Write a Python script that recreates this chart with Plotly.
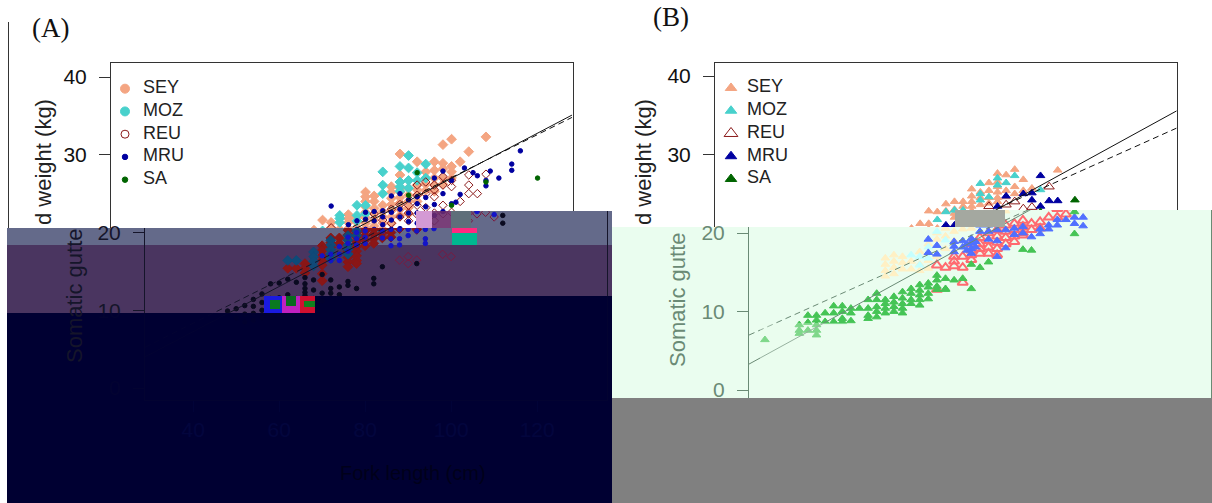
import plotly.graph_objects as go

W, H = 1212, 503
SERIES = ["SEY", "MOZ", "REU", "MRU", "SA"]
X_TICKS = [40, 60, 80, 100, 120]
KEY_ROWS = [4, 3, 2, 1, 0]

# Panel A: fork length (cm) -> somatic gutted weight (kg)
A_SEY = {62: [15.4], 64: [15.4], 66: [16, 15.4, 14.8], 70: [18.3, 17.7, 17, 16.4, 15.8, 14.7, 13.8],
         72: [19.3, 18.7, 18.1], 74: [19.3, 18.6], 76: [20.3, 19.7, 19, 18.4, 17.6, 16.8, 16.2, 15.6],
         78: [21.6, 20, 19.4, 18.8, 18.2, 17.6, 17, 16.4, 16], 80: [21.3, 20.6, 20.2, 19.6, 19, 18.3],
         82: [20.4, 19.8, 19.2, 18.6], 84: [22.3, 21.8, 21.3, 20.5, 19.9, 19.3], 86: [22, 21.3, 20.6, 20, 19.4],
         88: [25.2, 24.6, 24, 23.3, 22.6, 21.9, 21.2, 20.5], 90: [24.7, 24, 23.1, 22.4, 21.6, 20.8],
         92: [23.5, 22.7, 22, 21.2, 20.4], 94: [25.9, 25.2, 24.4, 23.6, 22.8, 22, 21.2],
         96: [30.1, 27.4, 26.5, 25.7, 25.2, 24.5, 23.8, 23, 22.2], 98: [25.7, 24.8, 24, 23.2, 22.4],
         100: [29.1, 26.1, 25.5, 24.8, 24], 102: [27.8, 27, 26.2, 25.4], 104: [29.1, 28, 27, 26.1, 25.3],
         106: [31.3, 28.9, 28.2, 27, 26.2], 108: [32, 28.5, 27.8, 27], 110: [29.1], 112: [30.4], 116: [32.3]}
A_MOZ = {62: [16.4], 64: [16.4], 68: [17.5, 16.9, 16.3, 15.7], 72: [19, 18.4, 17.8, 17.2, 16.6],
         76: [19.6, 19, 18.4, 17.8, 17.2], 78: [20.2, 19.6], 82: [22.2, 21.8, 21.3], 86: [23.5, 22.2, 21.5],
         88: [23.5, 22.4], 92: [27.8, 26.1, 25], 96: [28.5, 26.5, 25.9, 25.3], 98: [29.9, 28.3, 26.7, 25.7],
         100: [27.7, 26.7], 102: [28.8, 27]}
A_REU = {80: [20.6], 84: [19.6], 88: [16.45], 90: [22.4, 16.9, 16], 92: [21.6, 16.45], 94: [23, 21.2], 96: [23.6, 22],
         98: [23.5, 22.5, 21.5, 17.2], 100: [26.1, 24.8, 23.5, 22.3, 16.9], 102: [26.5, 25, 23.2, 22],
         104: [26.1, 25.5, 24.6, 22.5, 21.5], 106: [27.2, 26.1, 23.5, 22.4], 108: [26.7, 25.9, 22.6], 110: [24, 22],
         112: [27.4, 26.1, 25], 114: [25], 116: [27.5]}
A_MRU = {70: [17], 72: [17.2, 16.4], 74: [18.2, 17.2, 16.4], 76: [19.4, 18.6, 17.6], 78: [20, 19.2, 18.4],
         80: [23.4, 20.2, 19.4, 18.6], 84: [21, 20.2, 19.3], 86: [21.5, 20.4, 19.2, 18.3], 88: [22.6, 21.7, 20.4, 19.2, 18.4],
         90: [22.7, 21.5, 20.4, 19.6], 92: [22.8, 22, 21, 20.2], 94: [24.7, 22.6, 21.6, 20.4, 19.2, 18.6],
         96: [25, 23, 22, 20.5], 98: [24.2, 22.5, 21.4], 100: [24.6, 23.7, 22.5, 21.2], 102: [24.5, 23.3, 21.9],
         104: [27, 23.6, 22.2], 106: [27.9, 25, 22.7], 108: [26.7, 23.7], 109: [23.9], 110: [24.9, 22.3], 111: [28.3],
         113: [27.7], 114: [27.3], 116: [26.7, 26], 117: [27.9], 119: [27], 122: [28.8, 28], 124: [30.5]}
A_SA = {48: [9.9], 50: [9, 10.2], 52: [8.5, 9.5, 10.6], 54: [8.7, 9.6, 10.5, 11.4], 56: [9, 10, 11, 12.1],
        58: [9.5, 10.5, 11.5, 13.4], 60: [9.5, 10.5, 11.6, 13.5], 62: [10, 11, 12, 14], 64: [10.5, 11.5, 13.6],
        66: [14.2, 13.4, 12.8, 12.3, 11.9], 68: [13.9, 12.6, 11.5], 70: [14.6, 12.2, 11.2], 72: [13.9, 12.8, 12.2],
        74: [13, 12], 76: [13.7, 13.2], 78: [12.8], 82: [14.1, 13.4], 84: [15.6], 92: [16], 98: [24.8], 100: [27.7],
        108: [23.5], 112: [22.2, 21.2], 116: [26.5], 128: [27]}

# Panel B: fork length (cm) -> somatic gutted weight (kg)
B_SEY = {60: [14.5, 15.2, 16, 16.8], 62: [14.8, 15.6, 16.4, 17.2], 64: [15.4, 16.2, 17], 66: [15.4, 16.4],
         68: [15.2, 16, 17.6], 70: [15.5, 16.5, 18.6], 72: [17, 19.2, 20], 74: [18, 19.6, 20.6], 76: [21.2, 20.2, 19],
         78: [22.8, 21.2, 20.5], 80: [22.7, 20.6], 82: [23.7, 22.8], 84: [24, 23, 22.5, 22],
         86: [24, 23.4, 22.8, 22], 88: [25.6, 24.7, 24, 23.4, 22.8], 90: [25.2, 24.5, 23.6], 92: [26.4, 25.4, 24.5, 23.8],
         94: [27.6, 26.5, 25.9, 25.2, 24.5, 24], 96: [27.4, 25.4, 24.6], 98: [28.1, 25.9, 25], 100: [26.8, 25.4],
         102: [25.7], 108: [28]}
B_MOZ = {66: [17.2], 68: [17, 15.9], 70: [18.2, 16.8], 72: [20.2], 74: [19.1], 80: [21.7], 82: [22.7], 84: [22.9],
         86: [22.9], 90: [26.3, 25, 24.2], 92: [24.6], 94: [27, 26.1], 96: [26.4], 98: [27.3], 104: [25.5]}
B_REU = {72: [15.9, 12.8], 74: [15.6], 76: [17, 16.4, 15.8], 78: [17, 15.6, 13.7], 80: [18.6, 17.8, 17.2, 16.6],
         82: [19.4, 18.6, 18, 17.4], 84: [20, 19, 18.2, 17.4], 86: [20.4, 19.6, 18.8, 18, 17.2],
         88: [21, 20.2, 19.4, 18.6], 90: [21.2, 20.4, 19.6, 18.9], 92: [23.4, 21.6, 20.8, 20, 19.7],
         94: [21.2, 20.4], 96: [23.6, 21.4, 20.6], 98: [24, 22], 100: [23.1, 22], 102: [23.3, 22.4], 106: [25.9]}
B_MRU = {70: [19.2, 17.5], 72: [18.4, 17.3], 76: [18.9, 18.3, 17.6], 78: [19, 18.2], 79: [18.6, 17.8],
         80: [19.3, 18.7, 18, 17.4], 81: [18.9, 18.2], 82: [21, 20.2], 84: [21, 20.2, 19.2], 86: [20.4, 19, 17],
         88: [20.4, 18.1], 90: [20.6, 19.8], 92: [20.8, 20], 94: [23.4, 19.5], 96: [24.7, 19.9, 20.5], 98: [20.5, 21],
         100: [25, 21.7, 21], 102: [25.1, 24.2, 21.7], 104: [27.3, 23.4, 22, 21.2], 106: [24.1, 22, 20.9], 108: [24.1]}
B_SA = {32: [6.4], 40: [8.3, 7.6, 7.2], 42: [9.5, 8.6, 7.6], 44: [9.5, 8.9, 8.3, 7.6, 7], 46: [9.8, 8.7],
        48: [10.7, 9.8, 8.7], 50: [10.7, 10, 9.1, 8.7], 52: [10.4, 9.8, 8.8], 54: [10.4], 56: [11.5, 10.4, 9.5, 9.1],
        58: [12.3, 11.5, 10.6, 10, 9.3], 60: [11.5, 11, 10.4, 9.8], 62: [11.9, 11.2, 10.6, 10],
        64: [12.5, 11.7, 11, 10.4, 9.8], 66: [12.9, 12.3, 11.5, 11], 68: [13.4, 12.7, 12.1, 11.5, 10.8],
        70: [13.6, 13.1, 12.3, 11.6], 72: [14.6, 14, 13.2, 12.8], 74: [14.2, 12.9, 12.8], 76: [14], 78: [14.2],
        80: [16, 12.9], 82: [15.6], 84: [16.3], 92: [17.9], 94: [17.8], 104: [22.7, 19.9], 112: [24.2]}

# Fitted lines: [length endpoints], [weight endpoints]
LINE_X_A = [28.8, 136.0]
A_SOLID = [4.0, 35.1]
A_DASH = [5.25, 34.8]
LINE_X_B = [28.3, 135.8]
B_SOLID = [3.3, 35.6]
B_DASH = [7.0, 33.4]

A_DATA = [A_SEY, A_MOZ, A_REU, A_MRU, A_SA]
B_DATA = [B_SEY, B_MOZ, B_REU, B_MRU, B_SA]

TRUE = ["#f4a582", "#48d1cc", "#8b1a1a", "#0000a0", "#006400"]
A_BAND = ["#8a1616", "#0f4a78", "#7a1a40", "#1414c8", "#0a0a20"]
B_BAND = ["#fff0c4", "#c4ffff", "#ff6a70", "#5070ff", "#45c455"]
A_SYM = ["diamond", "diamond", "diamond-open", "circle", "circle"]
B_SYM = ["triangle-up", "triangle-up", "triangle-up-open", "triangle-up", "triangle-up"]
A_SIZE = [7.5, 7.5, 6.5, 4.5, 4.5]
B_SIZE = [7.5, 7.5, 9, 7.5, 7.5]
A_KEY_SYM = ["circle", "circle", "circle-open", "circle", "circle"]
A_KEY_SIZE = [9, 9, 8, 5.5, 5.5]
B_KEY_SIZE = [10, 10, 12, 10, 10]

fig = go.Figure()
SC = 4.3  # px per cm


def fx(x):
    return x / W


def fy(y):
    return 1 - y / H


layout = {}
ax_n = [0]


def axes(x0, x1, y0, y1, xr, yr, xa=None, ya=None):
    ax_n[0] += 1
    n = ax_n[0]
    s = "" if n == 1 else str(n)
    xa = dict(xa or {}, domain=[fx(x0), fx(x1)], range=xr, anchor="y" + s, zeroline=False, showgrid=False)
    ya = dict(ya or {}, domain=[fy(y1), fy(y0)], range=yr, anchor="x" + s, zeroline=False, showgrid=False)
    layout["xaxis" + s] = xa
    layout["yaxis" + s] = ya
    return "x" + s, "y" + s


def add_panel(data, lx, solid, dash, cols, syms, sizes, left, top, y40, kg_px, split_x, split_y, low_y, bottom,
              band_line, band_width):
    cm_l = lx[0]
    cm_r = cm_l + 461.5 / SC
    yv = lambda p: 40 - (p - y40) / kg_px
    tfont = dict(family="Liberation Sans", size=21)
    up_line = dict(showline=True, linecolor="#333333", linewidth=1)
    none_x = dict(showticklabels=False, ticks="", showline=False)
    yt = dict(tickmode="array", ticks="outside", ticklen=11, tickcolor="#333333", ticklabelstandoff=8,
              mirror=True, tickfont=dict(tfont, color="#111111"), **up_line)
    regions = []
    regions.append((axes(left, left + 461.5, top, split_y, [cm_l, cm_r], [yv(split_y), yv(top)],
                         dict(side="top", showticklabels=False, ticks="", **up_line),
                         dict(yt, tickvals=[30, 40], ticktext=["30", "40"])), TRUE, True))
    regions.append((axes(left, split_x, split_y, low_y, [cm_l, cm_l + (split_x - left) / SC],
                         [yv(low_y), yv(split_y)], none_x,
                         dict(showticklabels=False, ticks="", **up_line)), TRUE, False))
    sh = left + 34
    regions.append((axes(split_x, sh + 461.5, split_y, low_y, [cm_l + (split_x - sh) / SC, cm_r],
                         [yv(low_y), yv(split_y)], none_x,
                         dict(side="right", showticklabels=False, ticks="", showline=True, linecolor=band_line, linewidth=1)),
                    cols, False))
    regions.append((axes(sh, sh + 461.5, low_y, bottom, [cm_l, cm_r], [yv(bottom), yv(low_y)],
                         dict(tickvals=X_TICKS, ticktext=[str(t) for t in X_TICKS], ticks="outside", ticklen=11,
                              tickcolor="#0c1858", tickfont=dict(tfont, color="#15257c"), showline=True,
                              linecolor=band_line, linewidth=1),
                         dict(tickvals=[0, 10, 20], ticktext=["0", "10", "20"], ticks="outside", ticklen=11,
                              ticklabelstandoff=8, tickcolor=band_line, tickfont=dict(tfont, color=band_line),
                              showline=True, mirror=True, linecolor=band_line, linewidth=1)), cols, False))
    for (xa, ya), colors, main in regions:
        for i, name in enumerate(SERIES):
            xs, ys = [], []
            for k, vals in data[i].items():
                for v in vals:
                    xs.append(k)
                    ys.append(v)
            lw = band_width if (colors is not TRUE and "open" in syms[i]) else 1
            fig.add_trace(go.Scatter(
                x=xs, y=ys, mode="markers", name=name, xaxis=xa, yaxis=ya, showlegend=False, hoverinfo="skip",
                marker=dict(symbol=syms[i], size=sizes[i], color=colors[i],
                            line=dict(width=lw, color=colors[i]))))
        lc = "#111111" if colors is TRUE else band_line
        fig.add_trace(go.Scatter(x=lx, y=solid, mode="lines", xaxis=xa, yaxis=ya, showlegend=False,
                                 hoverinfo="skip", line=dict(color=lc, width=1)))
        fig.add_trace(go.Scatter(x=lx, y=dash, mode="lines", xaxis=xa, yaxis=ya, showlegend=False,
                                 hoverinfo="skip", line=dict(color=lc, width=1, dash="6px,4px")))


def add_key(x_left, row0, syms, sizes, mark_x, text_x):
    # Series key: five rows, 22.75 px apart, on its own hidden axes
    xa, ya = axes(x_left, x_left + 100, row0 - 11.4, row0 - 11.4 + 113.75, [0, 100], [-0.5, 4.5],
                  dict(visible=False), dict(visible=False))
    for i, name in enumerate(SERIES):
        fig.add_trace(go.Scatter(x=[mark_x], y=[KEY_ROWS[i]], mode="markers", name=name, xaxis=xa, yaxis=ya,
                                 showlegend=False, hoverinfo="skip",
                                 marker=dict(symbol=syms[i], size=sizes[i], color=TRUE[i],
                                             line=dict(width=1, color=TRUE[i]))))
        fig.add_trace(go.Scatter(x=[text_x], y=[KEY_ROWS[i]], mode="text", text=[name], textposition="middle right",
                                 xaxis=xa, yaxis=ya, showlegend=False, hoverinfo="skip", cliponaxis=False,
                                 textfont=dict(family="Liberation Sans", size=18, color="#222222")))


add_panel(A_DATA, LINE_X_A, A_SOLID, A_DASH, A_BAND, A_SYM, A_SIZE, 111, 63, 77, 7.775, 471, 211, 228, 400,
          "#15152a", 1)
add_panel(B_DATA, LINE_X_B, B_SOLID, B_DASH, B_BAND, B_SYM, B_SIZE, 715, 63, 76, 7.85, 1005, 210, 227, 398,
          "#6a8a75", 2)
add_key(111, 88.7, A_KEY_SYM, A_KEY_SIZE, 14, 32)
add_key(715, 88, B_SYM, B_KEY_SIZE, 16, 32)


def rect(x0, y0, x1, y1, color, layer="below", opacity=1):
    return dict(type="rect", xref="paper", yref="paper", x0=fx(x0), x1=fx(x1), y0=fy(y1), y1=fy(y0),
                fillcolor=color, line=dict(width=0), layer=layer, opacity=opacity)


GREY = "#646a8a"
PURPLE = "#4a3560"
NAVY = "#000033"
GREEN = "#eafdef"
shapes = [
    rect(7, 228, 612, 245, GREY),
    rect(471, 211, 612, 228, GREY),
    rect(7, 245, 612, 313, PURPLE),
    rect(315, 296, 612, 313, NAVY),
    rect(7, 313, 612, 503, NAVY),
    rect(612, 227, 1212, 398, GREEN),
    rect(1005, 210, 1212, 227, GREEN),
    rect(315, 296, 612, 313, NAVY, "above", 0.85),
    rect(7, 313, 612, 503, NAVY, "above", 0.85),
    rect(760, 323, 1000, 398, GREEN, "above", 0.35),
    rect(612, 398, 1212, 503, "#808080", "above"),
    # glitch blocks
    rect(416, 211, 432, 228, "#d49ad4", "above"),
    rect(432, 211, 451, 228, "#6a2a6a", "above", 0.9),
    rect(451, 211, 471, 228, "#5f6f7a", "above"),
    rect(452, 228, 477, 245, "#00b890", "above"),
    rect(452, 228, 477, 233, "#ff2a80", "above"),
    rect(264, 296, 282, 313, "#1a1ae0", "above"),
    rect(270, 300, 280, 309, "#0a7a20", "above"),
    rect(282, 296, 300, 313, "#c020c0", "above"),
    rect(286, 296, 296, 306, "#0a6a20", "above"),
    rect(300, 296, 315, 313, "#d01030", "above"),
    rect(304, 301, 315, 307, "#12801e", "above"),
    rect(955, 210, 1005, 227, "#a4a8a0", "above"),
    rect(8, 22, 8.8, 228, "#000000", "above"),
]

annots = []


def text(x, y, s, size, color, family="Liberation Sans", angle=0, xa="center"):
    annots.append(dict(x=fx(x), y=fy(y), xref="paper", yref="paper", text=s, showarrow=False, textangle=angle,
                       xanchor=xa, yanchor="middle", font=dict(family=family, size=size, color=color)))


text(30, 28, "(A)", 27, "#111111", "Liberation Serif", xa="left")
text(651, 17, "(B)", 27, "#111111", "Liberation Serif", xa="left")
text(43, 162, "d weight (kg)", 22, "#222222", angle=-90)
text(74, 296, "Somatic gutte", 22, "#15152a", angle=-90)
text(643, 162, "d weight (kg)", 22, "#222222", angle=-90)
text(677, 300, "Somatic gutte", 22, "#6a8a75", angle=-90)
text(413, 473, "Fork length (cm)", 20, "#00001a")

fig.update_layout(
    width=W, height=H, autosize=False, margin=dict(l=0, r=0, t=0, b=0, autoexpand=False),
    paper_bgcolor="white", plot_bgcolor="rgba(0,0,0,0)", shapes=shapes, annotations=annots,
    showlegend=False, **layout)

fig.write_html("out.html", config={"displayModeBar": False},
               post_script="document.body.style.margin='0';document.body.style.overflow='hidden';")
